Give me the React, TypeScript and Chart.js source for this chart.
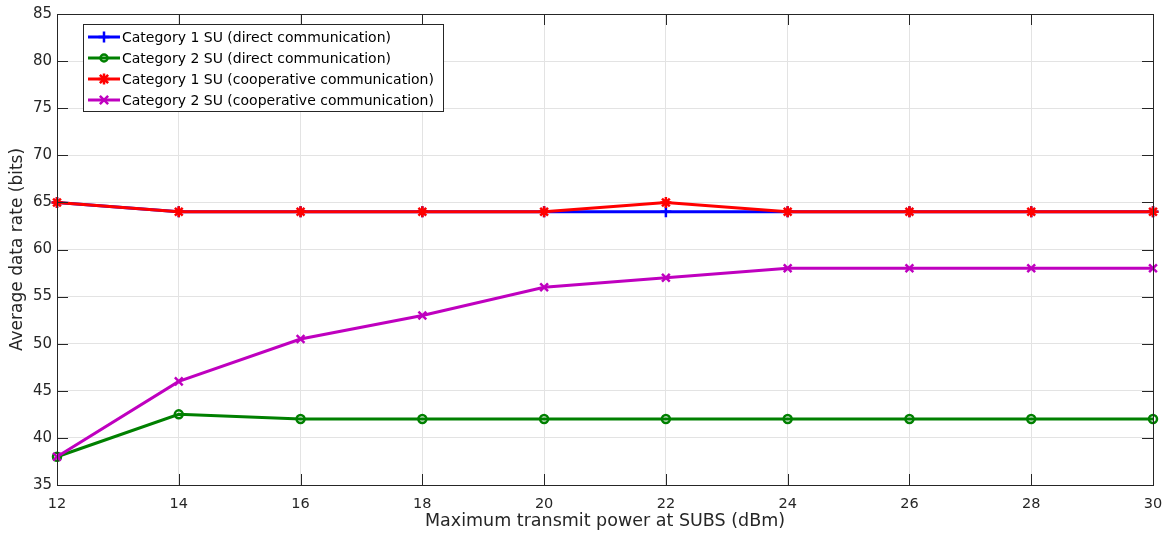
import React, { useEffect, useRef } from "react";
import { Chart, registerables } from "chart.js";

Chart.register(...registerables);

const xValues = [12, 14, 16, 18, 20, 22, 24, 26, 28, 30];
const cat1Direct = [65, 64, 64, 64, 64, 64, 64, 64, 64, 64];
const cat2Direct = [38, 42.5, 42, 42, 42, 42, 42, 42, 42, 42];
const cat1Coop = [65, 64, 64, 64, 64, 65, 64, 64, 64, 64];
const cat2Coop = [38, 46, 50.5, 53, 56, 57, 58, 58, 58, 58];
const seriesLabels = [
  "Category 1 SU (direct communication)",
  "Category 2 SU (direct communication)",
  "Category 1 SU (cooperative communication)",
  "Category 2 SU (cooperative communication)",
];
const xTickValues = [12, 14, 16, 18, 20, 22, 24, 26, 28, 30];
const yTickValues = [35, 40, 45, 50, 55, 60, 65, 70, 75, 80, 85];

const WIDE = '"DejaVu Sans", "Liberation Sans", sans-serif';
const AXIS_COLOR = "#262626";

function drawMarker(ctx: CanvasRenderingContext2D, style: string, x: number, y: number, r: number, color: string) {
  ctx.save();
  ctx.strokeStyle = color;
  ctx.lineWidth = 2.5;
  ctx.beginPath();
  if (style === "cross") {
    ctx.moveTo(x - r, y); ctx.lineTo(x + r, y);
    ctx.moveTo(x, y - r); ctx.lineTo(x, y + r);
  } else if (style === "circle") {
    ctx.arc(x, y, r, 0, Math.PI * 2);
  } else if (style === "crossRot") {
    const d = r * 0.75;
    ctx.moveTo(x - d, y - d); ctx.lineTo(x + d, y + d);
    ctx.moveTo(x - d, y + d); ctx.lineTo(x + d, y - d);
  } else if (style === "star") {
    const d = r * 0.75;
    ctx.moveTo(x - r, y); ctx.lineTo(x + r, y);
    ctx.moveTo(x, y - r); ctx.lineTo(x, y + r);
    ctx.moveTo(x - d, y - d); ctx.lineTo(x + d, y + d);
    ctx.moveTo(x - d, y + d); ctx.lineTo(x + d, y - d);
  }
  ctx.stroke();
  ctx.restore();
}

const framePlugin = {
  id: "matlabFrame",
  afterDraw(chart: any) {
    const { ctx, chartArea } = chart;
    const { left, right, top, bottom } = chartArea;
    const xs = chart.scales.x;
    const ys = chart.scales.y;
    ctx.save();
    ctx.strokeStyle = AXIS_COLOR;
    ctx.lineWidth = 1;
    ctx.strokeRect(Math.round(left) + 0.5, Math.round(top) + 0.5, Math.round(right - left), Math.round(bottom - top));
    const tl = 11;
    ctx.beginPath();
    xTickValues.forEach((v) => {
      const px = Math.round(xs.getPixelForValue(v)) + 0.5;
      ctx.moveTo(px, bottom); ctx.lineTo(px, bottom - tl);
      ctx.moveTo(px, top); ctx.lineTo(px, top + tl);
    });
    yTickValues.forEach((v) => {
      const py = Math.round(ys.getPixelForValue(v)) + 0.5;
      ctx.moveTo(left, py); ctx.lineTo(left + tl, py);
      ctx.moveTo(right, py); ctx.lineTo(right - tl, py);
    });
    ctx.stroke();

    // legend
    const bx = 83.5, by = 24.5, bw = 360, bh = 87;
    ctx.fillStyle = "#ffffff";
    ctx.fillRect(bx, by, bw, bh);
    ctx.strokeStyle = AXIS_COLOR;
    ctx.lineWidth = 1;
    ctx.strokeRect(bx, by, bw, bh);
    ctx.font = "14px " + WIDE;
    ctx.textBaseline = "middle";
    ctx.textAlign = "left";
    chart.data.datasets.forEach((ds: any, i: number) => {
      const ry = 37 + i * 21;
      ctx.strokeStyle = ds.borderColor;
      ctx.lineWidth = 3;
      ctx.beginPath();
      ctx.moveTo(88, ry); ctx.lineTo(120, ry);
      ctx.stroke();
      drawMarker(ctx, ds.pointStyle, 104, ry, ds.pointStyle === "circle" ? 3.5 : 5.5, ds.borderColor);
      ctx.fillStyle = "#000000";
      ctx.fillText(seriesLabels[i], 122, ry + 1);
    });
    ctx.restore();
  },
};

export default function App() {
  const ref = useRef<HTMLCanvasElement | null>(null);
  useEffect(() => {
    document.body.style.margin = "0";
    const mk = (ys: number[]) => xValues.map((x, i) => ({ x, y: ys[i] }));
    const common = { borderWidth: 3, pointBorderWidth: 2.5, pointHoverRadius: 6, clip: false as any, fill: false, tension: 0 };
    const chart = new Chart(ref.current as HTMLCanvasElement, {
      type: "line",
      data: {
        datasets: [
          { ...common, label: seriesLabels[0], data: mk(cat1Direct), borderColor: "#0000ff", backgroundColor: "#0000ff", pointStyle: "cross", pointRadius: 5.5, order: 3 },
          { ...common, label: seriesLabels[1], data: mk(cat2Direct), borderColor: "#008000", backgroundColor: "rgba(0,0,0,0)", pointStyle: "circle", pointRadius: 4, order: 2 },
          { ...common, label: seriesLabels[2], data: mk(cat1Coop), borderColor: "#ff0000", backgroundColor: "#ff0000", pointStyle: "star", pointRadius: 5.5, order: 1 },
          { ...common, label: seriesLabels[3], data: mk(cat2Coop), borderColor: "#bf00bf", backgroundColor: "#bf00bf", pointStyle: "crossRot", pointRadius: 5.5, order: 0 },
        ] as any,
      },
      options: {
        animation: false,
        responsive: false,
        layout: { padding: { top: 14, right: 13, left: 0, bottom: 0 } },
        plugins: { legend: { display: false }, tooltip: { enabled: false } },
        scales: {
          x: {
            type: "linear",
            min: 12,
            max: 30,
            afterBuildTicks: (s: any) => { s.ticks = xTickValues.map((v) => ({ value: v })); },
            afterFit: (s: any) => { s.height = 56; s.paddingLeft = 0; s.paddingRight = 0; },
            grid: { color: "#e3e3e3", lineWidth: 1, drawTicks: false },
            border: { display: false },
            ticks: { color: AXIS_COLOR, font: { family: WIDE, size: 14.5 }, padding: 11, maxRotation: 0 },
            title: { display: true, text: "Maximum transmit power at SUBS (dBm)", color: AXIS_COLOR, font: { family: WIDE, size: 17.5 }, padding: { top: 0, bottom: 9 } },
          },
          y: {
            type: "linear",
            min: 35,
            max: 85,
            afterBuildTicks: (s: any) => { s.ticks = yTickValues.map((v) => ({ value: v })); },
            afterFit: (s: any) => { s.width = 57; s.paddingTop = 0; s.paddingBottom = 0; },
            grid: { color: "#e3e3e3", lineWidth: 1, drawTicks: false },
            border: { display: false },
            ticks: { color: AXIS_COLOR, font: { family: WIDE, size: 15 }, padding: 5 },
            title: { display: true, text: "Average data rate (bits)", color: AXIS_COLOR, font: { family: WIDE, size: 17 }, padding: { top: 7, bottom: 0 } },
          },
        },
      },
      plugins: [framePlugin],
    });
    return () => chart.destroy();
  }, []);
  return (
    <div style={{ width: 1166, height: 541 }}>
      <canvas ref={ref} width={1166} height={541} style={{ display: "block" }} />
    </div>
  );
}
